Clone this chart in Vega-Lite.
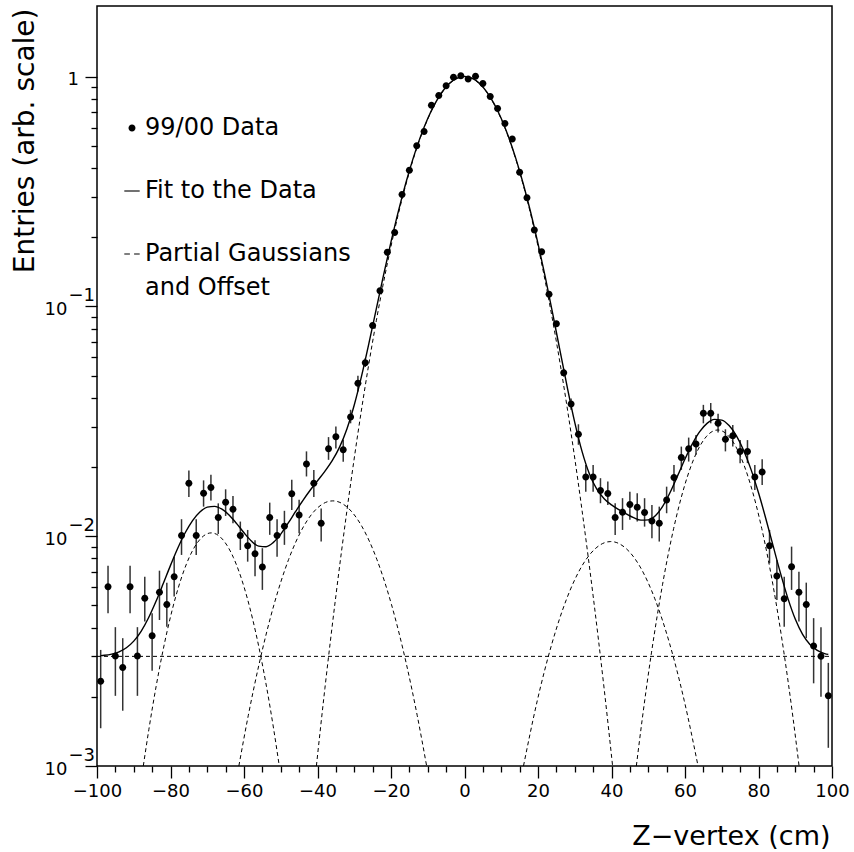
{
  "$schema": "https://vega.github.io/schema/vega-lite/v6.json",
  "width": 735,
  "height": 760,
  "autosize": {"type": "none"},
  "padding": {"left": 97, "top": 6, "right": 22, "bottom": 86},
  "config": {
    "font": "DejaVu Sans",
    "view": {"stroke": "black", "strokeWidth": 1.5},
    "style": {"guide-label": {"lineHeight": 34}},
    "axis": {"labelColor": "black", "titleColor": "black", "labelFont": "DejaVu Sans", "titleFont": "DejaVu Sans", "titleFontWeight": "normal", "labelFlush": false, "labelOverlap": false, "labelFontSize": 18}
  },
  "datasets": {
    "points": [
      {"x": -99, "y": 0.00234, "lo": 0.00146, "hi": 0.0032},
      {"x": -97, "y": 0.00603, "lo": 0.00462, "hi": 0.00743},
      {"x": -95, "y": 0.00301, "lo": 0.00202, "hi": 0.00402},
      {"x": -93, "y": 0.00268, "lo": 0.00174, "hi": 0.0036},
      {"x": -91, "y": 0.00603, "lo": 0.00462, "hi": 0.00743},
      {"x": -89, "y": 0.00301, "lo": 0.00202, "hi": 0.00402},
      {"x": -87, "y": 0.00537, "lo": 0.00425, "hi": 0.00667},
      {"x": -85, "y": 0.00369, "lo": 0.0026, "hi": 0.00462},
      {"x": -83, "y": 0.0057, "lo": 0.00432, "hi": 0.00708},
      {"x": -81, "y": 0.00504, "lo": 0.00404, "hi": 0.00628},
      {"x": -79, "y": 0.00667, "lo": 0.00546, "hi": 0.00815},
      {"x": -77, "y": 0.01006, "lo": 0.00829, "hi": 0.01186},
      {"x": -75, "y": 0.017, "lo": 0.0148, "hi": 0.0193},
      {"x": -73, "y": 0.01006, "lo": 0.00829, "hi": 0.01186},
      {"x": -71, "y": 0.0154, "lo": 0.01345, "hi": 0.0175},
      {"x": -69, "y": 0.0163, "lo": 0.0143, "hi": 0.0185},
      {"x": -67, "y": 0.01205, "lo": 0.01023, "hi": 0.0139},
      {"x": -65, "y": 0.01406, "lo": 0.01225, "hi": 0.016},
      {"x": -63, "y": 0.01311, "lo": 0.0114, "hi": 0.01497},
      {"x": -61, "y": 0.01006, "lo": 0.00871, "hi": 0.01158},
      {"x": -59, "y": 0.00908, "lo": 0.00775, "hi": 0.01065},
      {"x": -57, "y": 0.00838, "lo": 0.0067, "hi": 0.0096},
      {"x": -55, "y": 0.00735, "lo": 0.00584, "hi": 0.00887},
      {"x": -53, "y": 0.01205, "lo": 0.01014, "hi": 0.014},
      {"x": -51, "y": 0.01006, "lo": 0.00815, "hi": 0.01186},
      {"x": -49, "y": 0.01105, "lo": 0.00917, "hi": 0.0129},
      {"x": -47, "y": 0.0153, "lo": 0.013, "hi": 0.0176},
      {"x": -45, "y": 0.01238, "lo": 0.0103, "hi": 0.0144},
      {"x": -43, "y": 0.0206, "lo": 0.0182, "hi": 0.0234},
      {"x": -41, "y": 0.017, "lo": 0.0148, "hi": 0.0194},
      {"x": -39, "y": 0.0114, "lo": 0.00948, "hi": 0.0132},
      {"x": -37, "y": 0.024, "lo": 0.0215, "hi": 0.027},
      {"x": -35, "y": 0.0271, "lo": 0.0241, "hi": 0.03},
      {"x": -33, "y": 0.0238, "lo": 0.0211, "hi": 0.0263},
      {"x": -31, "y": 0.033, "lo": 0.031, "hi": 0.0355},
      {"x": -29, "y": 0.0463, "lo": 0.0426, "hi": 0.0499},
      {"x": -27, "y": 0.0569, "lo": 0.0545, "hi": 0.0595},
      {"x": -25, "y": 0.0826, "lo": 0.08, "hi": 0.085},
      {"x": -23, "y": 0.117, "lo": 0.114, "hi": 0.12},
      {"x": -21, "y": 0.172, "lo": 0.168, "hi": 0.176},
      {"x": -19, "y": 0.21, "lo": 0.206, "hi": 0.214},
      {"x": -17, "y": 0.307, "lo": 0.302, "hi": 0.312},
      {"x": -15, "y": 0.391, "lo": 0.386, "hi": 0.396},
      {"x": -13, "y": 0.5, "lo": 0.494, "hi": 0.506},
      {"x": -11, "y": 0.577, "lo": 0.571, "hi": 0.583},
      {"x": -9, "y": 0.75, "lo": 0.743, "hi": 0.757},
      {"x": -7, "y": 0.828, "lo": 0.821, "hi": 0.835},
      {"x": -5, "y": 0.912, "lo": 0.904, "hi": 0.92},
      {"x": -3, "y": 0.994, "lo": 0.986, "hi": 1.002},
      {"x": -1, "y": 1.009, "lo": 1.001, "hi": 1.017},
      {"x": 1, "y": 0.978, "lo": 0.97, "hi": 0.986},
      {"x": 3, "y": 1.005, "lo": 0.997, "hi": 1.013},
      {"x": 5, "y": 0.934, "lo": 0.926, "hi": 0.942},
      {"x": 7, "y": 0.82, "lo": 0.813, "hi": 0.827},
      {"x": 9, "y": 0.727, "lo": 0.72, "hi": 0.734},
      {"x": 11, "y": 0.626, "lo": 0.62, "hi": 0.632},
      {"x": 13, "y": 0.535, "lo": 0.529, "hi": 0.541},
      {"x": 15, "y": 0.384, "lo": 0.379, "hi": 0.389},
      {"x": 17, "y": 0.297, "lo": 0.292, "hi": 0.302},
      {"x": 19, "y": 0.215, "lo": 0.211, "hi": 0.219},
      {"x": 21, "y": 0.173, "lo": 0.169, "hi": 0.177},
      {"x": 23, "y": 0.113, "lo": 0.11, "hi": 0.116},
      {"x": 25, "y": 0.084, "lo": 0.0815, "hi": 0.0865},
      {"x": 27, "y": 0.0515, "lo": 0.0495, "hi": 0.0535},
      {"x": 29, "y": 0.0376, "lo": 0.0355, "hi": 0.0398},
      {"x": 31, "y": 0.0278, "lo": 0.025, "hi": 0.0307},
      {"x": 33, "y": 0.0181, "lo": 0.01563, "hi": 0.0204},
      {"x": 35, "y": 0.0181, "lo": 0.01563, "hi": 0.0204},
      {"x": 37, "y": 0.0158, "lo": 0.01392, "hi": 0.01789},
      {"x": 39, "y": 0.01533, "lo": 0.01368, "hi": 0.01729},
      {"x": 41, "y": 0.01205, "lo": 0.01013, "hi": 0.01392},
      {"x": 43, "y": 0.01272, "lo": 0.01065, "hi": 0.01464},
      {"x": 45, "y": 0.01373, "lo": 0.01178, "hi": 0.01563},
      {"x": 47, "y": 0.01337, "lo": 0.01158, "hi": 0.01539},
      {"x": 49, "y": 0.01267, "lo": 0.01101, "hi": 0.01464},
      {"x": 51, "y": 0.01166, "lo": 0.0098, "hi": 0.01368},
      {"x": 53, "y": 0.0114, "lo": 0.00948, "hi": 0.01345},
      {"x": 55, "y": 0.01439, "lo": 0.01259, "hi": 0.01643},
      {"x": 57, "y": 0.018, "lo": 0.01563, "hi": 0.0204},
      {"x": 59, "y": 0.022, "lo": 0.01944, "hi": 0.02455},
      {"x": 61, "y": 0.024, "lo": 0.02113, "hi": 0.02687},
      {"x": 63, "y": 0.0252, "lo": 0.0226, "hi": 0.0276},
      {"x": 65, "y": 0.0343, "lo": 0.031, "hi": 0.0373},
      {"x": 67, "y": 0.0343, "lo": 0.031, "hi": 0.038},
      {"x": 69, "y": 0.031, "lo": 0.0283, "hi": 0.0341},
      {"x": 71, "y": 0.0264, "lo": 0.0234, "hi": 0.0292},
      {"x": 73, "y": 0.0274, "lo": 0.02455, "hi": 0.0305},
      {"x": 75, "y": 0.0234, "lo": 0.0208, "hi": 0.0262},
      {"x": 77, "y": 0.0234, "lo": 0.0208, "hi": 0.0262},
      {"x": 79, "y": 0.0181, "lo": 0.0159, "hi": 0.0204},
      {"x": 81, "y": 0.01905, "lo": 0.0167, "hi": 0.0216},
      {"x": 83, "y": 0.0091, "lo": 0.00763, "hi": 0.01065},
      {"x": 85, "y": 0.00671, "lo": 0.00528, "hi": 0.00788},
      {"x": 87, "y": 0.00535, "lo": 0.00404, "hi": 0.00667},
      {"x": 89, "y": 0.00737, "lo": 0.00584, "hi": 0.00901},
      {"x": 91, "y": 0.0057, "lo": 0.00425, "hi": 0.00701},
      {"x": 93, "y": 0.00504, "lo": 0.0036, "hi": 0.00628},
      {"x": 95, "y": 0.00333, "lo": 0.00229, "hi": 0.0044},
      {"x": 97, "y": 0.003, "lo": 0.002, "hi": 0.00402},
      {"x": 99, "y": 0.00202, "lo": 0.0012, "hi": 0.00281}
    ],
    "fit": [
      {"x": -99, "y": 0.003022}, {"x": -98, "y": 0.003032}, {"x": -96, "y": 0.003069}, {"x": -94, "y": 0.00314},
      {"x": -92, "y": 0.003271}, {"x": -90, "y": 0.003495}, {"x": -88, "y": 0.003857}, {"x": -86, "y": 0.004405},
      {"x": -84, "y": 0.005182}, {"x": -82, "y": 0.006205}, {"x": -80, "y": 0.007466}, {"x": -78, "y": 0.008886},
      {"x": -76, "y": 0.01035}, {"x": -74, "y": 0.0117}, {"x": -72, "y": 0.01275}, {"x": -70, "y": 0.01338},
      {"x": -68, "y": 0.01349}, {"x": -66, "y": 0.01311}, {"x": -64, "y": 0.01235}, {"x": -62, "y": 0.01135},
      {"x": -60, "y": 0.01035}, {"x": -58, "y": 0.00953}, {"x": -56, "y": 0.00905}, {"x": -54, "y": 0.009},
      {"x": -52, "y": 0.0094}, {"x": -50, "y": 0.01021}, {"x": -48, "y": 0.01139}, {"x": -46, "y": 0.01278},
      {"x": -44, "y": 0.01429}, {"x": -42, "y": 0.01585}, {"x": -40, "y": 0.01742}, {"x": -38, "y": 0.01915},
      {"x": -36, "y": 0.02131}, {"x": -34, "y": 0.02442}, {"x": -32, "y": 0.02931}, {"x": -30, "y": 0.03725},
      {"x": -28, "y": 0.04986}, {"x": -26, "y": 0.0692}, {"x": -24, "y": 0.0976}, {"x": -22, "y": 0.1375},
      {"x": -20, "y": 0.1909}, {"x": -18, "y": 0.2594}, {"x": -16, "y": 0.343}, {"x": -14, "y": 0.4399},
      {"x": -12, "y": 0.5469}, {"x": -10, "y": 0.6579}, {"x": -8, "y": 0.7653}, {"x": -6, "y": 0.8615},
      {"x": -4, "y": 0.9375}, {"x": -2, "y": 0.9862}, {"x": 0, "y": 1.003}, {"x": 2, "y": 0.9861},
      {"x": 4, "y": 0.9373}, {"x": 6, "y": 0.8613}, {"x": 8, "y": 0.7649}, {"x": 10, "y": 0.6573},
      {"x": 12, "y": 0.5459}, {"x": 14, "y": 0.4386}, {"x": 16, "y": 0.3411}, {"x": 18, "y": 0.2569},
      {"x": 20, "y": 0.1878}, {"x": 22, "y": 0.1337}, {"x": 24, "y": 0.0931}, {"x": 26, "y": 0.06404},
      {"x": 28, "y": 0.0442}, {"x": 30, "y": 0.0313}, {"x": 32, "y": 0.02334}, {"x": 34, "y": 0.01866},
      {"x": 36, "y": 0.01603}, {"x": 38, "y": 0.01457}, {"x": 40, "y": 0.01369}, {"x": 42, "y": 0.01306},
      {"x": 44, "y": 0.01252}, {"x": 46, "y": 0.01205}, {"x": 48, "y": 0.01175}, {"x": 50, "y": 0.01178},
      {"x": 52, "y": 0.01231}, {"x": 54, "y": 0.01355}, {"x": 56, "y": 0.01557}, {"x": 58, "y": 0.01835},
      {"x": 60, "y": 0.02169}, {"x": 62, "y": 0.02523}, {"x": 64, "y": 0.02851}, {"x": 66, "y": 0.03098},
      {"x": 68, "y": 0.03224}, {"x": 70, "y": 0.03201}, {"x": 72, "y": 0.0303}, {"x": 74, "y": 0.02734},
      {"x": 76, "y": 0.02356}, {"x": 78, "y": 0.01944}, {"x": 80, "y": 0.01545}, {"x": 82, "y": 0.01192},
      {"x": 84, "y": 0.00905}, {"x": 86, "y": 0.00689}, {"x": 88, "y": 0.005364}, {"x": 90, "y": 0.004361},
      {"x": 92, "y": 0.003742}, {"x": 94, "y": 0.003382}, {"x": 96, "y": 0.003187}, {"x": 98, "y": 0.003086},
      {"x": 99, "y": 0.00306}
    ],
    "parts": [
      {"c": "offset", "x": -100, "y": 0.003}, {"c": "offset", "x": 100, "y": 0.003},
      {"c": "g1", "x": -87.4, "y": 0.001}, {"c": "g1", "x": -85.9, "y": 0.001438}, {"c": "g1", "x": -83.9, "y": 0.002226},
      {"c": "g1", "x": -80.9, "y": 0.00387}, {"c": "g1", "x": -77.9, "y": 0.00595}, {"c": "g1", "x": -74.9, "y": 0.00809},
      {"c": "g1", "x": -71.9, "y": 0.00972}, {"c": "g1", "x": -68.9, "y": 0.01034}, {"c": "g1", "x": -65.9, "y": 0.00972},
      {"c": "g1", "x": -62.9, "y": 0.00809}, {"c": "g1", "x": -59.9, "y": 0.00595}, {"c": "g1", "x": -56.9, "y": 0.00387},
      {"c": "g1", "x": -53.9, "y": 0.002226}, {"c": "g1", "x": -51.9, "y": 0.001438}, {"c": "g1", "x": -50.4, "y": 0.001},
      {"c": "g2", "x": -61.4, "y": 0.001}, {"c": "g2", "x": -58.85, "y": 0.001654}, {"c": "g2", "x": -55.85, "y": 0.002796},
      {"c": "g2", "x": -51.85, "y": 0.00503}, {"c": "g2", "x": -47.85, "y": 0.00793}, {"c": "g2", "x": -43.85, "y": 0.01098},
      {"c": "g2", "x": -39.85, "y": 0.01335}, {"c": "g2", "x": -35.85, "y": 0.01425}, {"c": "g2", "x": -31.85, "y": 0.01335},
      {"c": "g2", "x": -27.85, "y": 0.01098}, {"c": "g2", "x": -23.85, "y": 0.00793}, {"c": "g2", "x": -19.85, "y": 0.00503},
      {"c": "g2", "x": -15.85, "y": 0.002796}, {"c": "g2", "x": -12.85, "y": 0.001654}, {"c": "g2", "x": -10.3, "y": 0.001},
      {"c": "g3", "x": -40.3, "y": 0.001}, {"c": "g3", "x": -38, "y": 0.002168}, {"c": "g3", "x": -35, "y": 0.0055},
      {"c": "g3", "x": -32, "y": 0.0129}, {"c": "g3", "x": -28, "y": 0.03577}, {"c": "g3", "x": -24, "y": 0.0866},
      {"c": "g3", "x": -20, "y": 0.1828}, {"c": "g3", "x": -16, "y": 0.3371}, {"c": "g3", "x": -12, "y": 0.5425},
      {"c": "g3", "x": -8, "y": 0.7617}, {"c": "g3", "x": -4, "y": 0.9343}, {"c": "g3", "x": 0, "y": 1.0},
      {"c": "g3", "x": 4, "y": 0.9343}, {"c": "g3", "x": 8, "y": 0.7617}, {"c": "g3", "x": 12, "y": 0.5425},
      {"c": "g3", "x": 16, "y": 0.3371}, {"c": "g3", "x": 20, "y": 0.1828}, {"c": "g3", "x": 24, "y": 0.0866},
      {"c": "g3", "x": 28, "y": 0.03577}, {"c": "g3", "x": 32, "y": 0.0129}, {"c": "g3", "x": 35, "y": 0.0055},
      {"c": "g3", "x": 38, "y": 0.002168}, {"c": "g3", "x": 40.3, "y": 0.001},
      {"c": "g4", "x": 16.05, "y": 0.001}, {"c": "g4", "x": 19.8, "y": 0.001923}, {"c": "g4", "x": 23.8, "y": 0.003415},
      {"c": "g4", "x": 27.8, "y": 0.00534}, {"c": "g4", "x": 31.8, "y": 0.00735}, {"c": "g4", "x": 35.8, "y": 0.00889},
      {"c": "g4", "x": 39.8, "y": 0.00948}, {"c": "g4", "x": 43.8, "y": 0.00889}, {"c": "g4", "x": 47.8, "y": 0.00735},
      {"c": "g4", "x": 51.8, "y": 0.00534}, {"c": "g4", "x": 55.8, "y": 0.003415}, {"c": "g4", "x": 59.8, "y": 0.001923},
      {"c": "g4", "x": 63.55, "y": 0.001},
      {"c": "g5", "x": 46.76, "y": 0.001}, {"c": "g5", "x": 48.4, "y": 0.001616}, {"c": "g5", "x": 50.9, "y": 0.00313},
      {"c": "g5", "x": 53.9, "y": 0.00618}, {"c": "g5", "x": 56.9, "y": 0.01078}, {"c": "g5", "x": 59.9, "y": 0.01662},
      {"c": "g5", "x": 62.9, "y": 0.02265}, {"c": "g5", "x": 65.9, "y": 0.02725}, {"c": "g5", "x": 68.9, "y": 0.029},
      {"c": "g5", "x": 71.9, "y": 0.02725}, {"c": "g5", "x": 74.9, "y": 0.02265}, {"c": "g5", "x": 77.9, "y": 0.01662},
      {"c": "g5", "x": 80.9, "y": 0.01078}, {"c": "g5", "x": 83.9, "y": 0.00618}, {"c": "g5", "x": 86.9, "y": 0.00313},
      {"c": "g5", "x": 89.4, "y": 0.001616}, {"c": "g5", "x": 91.04, "y": 0.001}
    ]
  },
  "resolve": {"scale": {"x": "shared", "y": "shared"}, "axis": {"x": "independent", "y": "independent"}},
  "layer": [
    {
      "data": {"name": "points"},
      "mark": {"type": "rule", "strokeWidth": 1.5, "color": "#333333"},
      "encoding": {
        "x": {"field": "x", "type": "quantitative", "scale": {"domain": [-100, 100], "nice": false, "zero": false},
          "axis": {"orient": "bottom", "values": [-100, -80, -60, -40, -20, 0, 20, 40, 60, 80, 100], "format": "d", "domain": false, "grid": false, "ticks": true, "tickSize": 12, "tickColor": "black", "tickWidth": 1.3, "labelPadding": 4,
            "title": "Z−vertex (cm)", "titleFontSize": 27, "titleAlign": "right", "titleBaseline": "alphabetic", "titleX": 733, "titleY": 78}},
        "y": {"field": "lo", "type": "quantitative", "scale": {"type": "log", "domain": [0.001, 2.03], "nice": false},
          "axis": {"orient": "left", "values": [0.001, 0.01, 0.1, 1], "domain": false, "grid": false, "ticks": true, "tickSize": 12, "tickColor": "black", "tickWidth": 1.3, "labels": false, "title": null}},
        "y2": {"field": "hi"}
      }
    },
    {
      "data": {"name": "fit"},
      "mark": {"type": "line", "color": "black", "strokeWidth": 1.4, "interpolate": "monotone", "clip": true},
      "encoding": {
        "x": {"field": "x", "type": "quantitative", "scale": {"domain": [-100, 100], "nice": false, "zero": false}, "axis": null},
        "y": {"field": "y", "type": "quantitative", "scale": {"type": "log", "domain": [0.001, 2.03], "nice": false},
          "axis": {"orient": "left", "values": [0.001, 0.01, 0.1, 1], "domain": false, "grid": false, "ticks": false,
            "labelExpr": "datum.value >= 1 ? '1' : '10'",
            "labelAlign": {"condition": {"test": "datum.value >= 1", "value": "left"}, "value": "right"},
            "labelPadding": 30, "labelOffset": 3,
            "title": "Entries (arb. scale)", "titleFontSize": 28, "titleAngle": -90, "titleAlign": "right", "titleBaseline": "alphabetic", "titleX": -64, "titleY": 2}}
      }
    },
    {
      "data": {"name": "parts"},
      "mark": {"type": "line", "color": "black", "strokeWidth": 1, "strokeDash": [4, 3], "interpolate": "monotone", "clip": true},
      "encoding": {
        "x": {"field": "x", "type": "quantitative", "scale": {"domain": [-100, 100], "nice": false, "zero": false}, "axis": null},
        "y": {"field": "y", "type": "quantitative", "scale": {"type": "log", "domain": [0.001, 2.03], "nice": false},
          "axis": {"orient": "left", "values": [0.001, 0.01, 0.1], "domain": false, "grid": false, "ticks": false,
            "labelExpr": "datum.value < 0.005 ? '−3' : (datum.value < 0.05 ? '−2' : '−1')",
            "labelAlign": "left", "labelPadding": 29, "labelOffset": -11, "title": null}},
        "detail": {"field": "c", "type": "nominal"}
      }
    },
    {
      "data": {"name": "points"},
      "mark": {"type": "point", "filled": true, "color": "black", "opacity": 1, "size": 196},
      "encoding": {
        "x": {"field": "x", "type": "quantitative", "scale": {"domain": [-100, 100], "nice": false, "zero": false},
          "axis": {"orient": "bottom", "values": [-95, -90, -85, -75, -70, -65, -55, -50, -45, -35, -30, -25, -15, -10, -5, 5, 10, 15, 25, 30, 35, 45, 50, 55, 65, 70, 75, 85, 90, 95], "domain": false, "grid": false, "ticks": true, "tickSize": 6, "tickColor": "black", "tickWidth": 1.3, "labels": false, "title": null}},
        "y": {"field": "y", "type": "quantitative", "scale": {"type": "log", "domain": [0.001, 2.03], "nice": false},
          "axis": {"orient": "left", "values": [0.002, 0.003, 0.004, 0.005, 0.006, 0.007, 0.008, 0.009, 0.02, 0.03, 0.04, 0.05, 0.06, 0.07, 0.08, 0.09, 0.2, 0.3, 0.4, 0.5, 0.6, 0.7, 0.8, 0.9], "domain": false, "grid": false, "ticks": true, "tickSize": 6, "tickColor": "black", "tickWidth": 1.3, "labels": false, "title": null}},
        "shape": {"datum": "99/00 Data",
          "scale": {"domain": ["99/00 Data", "Fit to the Data", "Partial Gaussians and Offset"],
            "range": ["M0.5,0A0.5,0.5 0 1,1 -0.5,0A0.5,0.5 0 1,1 0.5,0Z", "M-1.1,-0.08H1.1V0.08H-1.1Z", "M-1.1,-0.08H-0.3V0.08H-1.1Z M0.3,-0.08H1.1V0.08H0.3Z"]},
          "legend": {"orient": "none", "legendX": 23, "legendY": 110, "title": null, "padding": 0, "rowPadding": 39,
            "labelFont": "DejaVu Sans", "labelFontSize": 24, "labelColor": "black", "labelOffset": 1, "labelLimit": 400,
            "symbolSize": 196, "symbolFillColor": "black", "symbolStrokeWidth": 0, "symbolOpacity": 1,
            "labelExpr": "datum.label == 'Partial Gaussians and Offset' ? ['Partial Gaussians', 'and Offset'] : datum.label",
            "encode": {"labels": {"update": {"lineHeight": {"value": 34}, "dy": {"signal": "datum.value == 'Partial Gaussians and Offset' ? 17 : 0"}}}}}}
      }
    }
  ]
}
